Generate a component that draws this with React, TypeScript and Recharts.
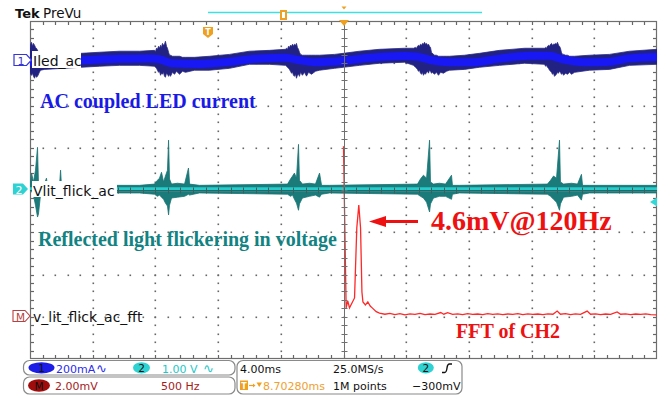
import React from 'react';
import { ComposedChart, Line, Area, XAxis, YAxis } from 'recharts';

// CH1 "Iled_ac" : [time ms (trigger = 0), current mA]  (200 mA/div)
const ch1Core: [number, number][] = [
  [-20.0, -9], [-16.71, 0], [-14.29, 7], [-12.38, 9], [-11.74, 5], [-10.97, -14], [-9.19, -17],
  [-7.27, -7], [-5.36, 9], [-3.7, 12], [-2.81, 0], [-1.85, -9], [0, -2], [1.66, 12], [3.89, 20],
  [4.72, 17], [5.61, 0], [6.76, -9], [8.23, -9], [9.95, 8], [11.87, 21], [13.14, 21], [13.97, 5],
  [15.37, -9], [16.78, -8], [18.25, 9], [20.0, 16],
];
// CH1 noise envelope : [time ms, min mA, max mA]
const ch1Envelope: [number, number, number][] = [
  [-20.0, -57, 57], [-19.97, -66, 76], [-19.9, -71, 85], [-19.84, -61, 66], [-19.78, -76, 80],
  [-19.71, -85, 71], [-19.65, -71, 61], [-19.59, -80, 57], [-19.52, -76, 47], [-19.4, -57, 38],
  [-19.33, -47, 33], [-19.07, -43, 28], [-16.71, -33, 33], [-15.57, -28, 38], [-14.29, -24, 43],
  [-13.01, -24, 43], [-12.06, -28, 47], [-12.0, -33, 40], [-11.93, -38, 57], [-11.87, -47, 52],
  [-11.8, -57, 66], [-11.74, -52, 57], [-11.67, -71, 71], [-11.61, -61, 61], [-11.55, -66, 80],
  [-11.48, -57, 71], [-11.42, -76, 76], [-11.36, -80, 90], [-11.29, -61, 66], [-11.23, -66, 57],
  [-11.16, -76, 38], [-11.1, -66, 24], [-11.04, -76, 24], [-10.91, -57, 19], [-10.78, -66, 19],
  [-10.65, -52, 19], [-10.46, -66, 19], [-10.27, -52, 14], [-10.08, -57, 14], [-9.51, -47, 14],
  [-8.55, -47, 19], [-7.27, -38, 28], [-6.0, -19, 43], [-4.72, -19, 47], [-3.7, -24, 52],
  [-3.64, -28, 57], [-3.57, -33, 52], [-3.51, -38, 66], [-3.45, -43, 61], [-3.38, -52, 71],
  [-3.32, -61, 66], [-3.25, -57, 76], [-3.19, -71, 66], [-3.13, -76, 76], [-3.06, -66, 71],
  [-3.0, -85, 80], [-2.94, -71, 61], [-2.87, -66, 52], [-2.81, -76, 38], [-2.74, -57, 28],
  [-2.62, -71, 24], [-2.49, -57, 24], [-2.36, -75, 24], [-2.23, -57, 24], [-2.04, -66, 24],
  [-1.79, -52, 24], [-1.53, -47, 24], [-0.57, -38, 28], [0, -33, 33], [1.02, -24, 43], [2.3, -14, 52],
  [3.89, -9, 57], [4.47, -24, 57], [4.59, -33, 61], [4.66, -38, 57], [4.72, -43, 66], [4.78, -52, 71],
  [4.85, -47, 66], [4.91, -61, 76], [4.98, -66, 71], [5.04, -57, 80], [5.1, -71, 76], [5.17, -61, 85],
  [5.23, -66, 76], [5.3, -57, 80], [5.36, -52, 71], [5.42, -61, 76], [5.49, -47, 66], [5.55, -52, 61],
  [5.61, -61, 38], [5.68, -57, 33], [5.8, -66, 24], [5.93, -57, 24], [6.06, -71, 19], [6.19, -57, 19],
  [6.38, -61, 19], [6.57, -52, 19], [6.76, -47, 19], [7.72, -43, 24], [8.68, -33, 33], [9.95, -24, 47],
  [11.55, -14, 57], [12.82, -19, 57], [12.89, -28, 61], [12.95, -24, 57], [13.01, -33, 66],
  [13.08, -38, 71], [13.14, -47, 66], [13.21, -52, 76], [13.27, -57, 80], [13.33, -66, 71],
  [13.4, -61, 76], [13.46, -76, 76], [13.52, -71, 80], [13.59, -66, 76], [13.65, -57, 85],
  [13.72, -61, 71], [13.78, -52, 66], [13.84, -57, 57], [13.9, -66, 38], [13.97, -61, 28],
  [14.04, -71, 28], [14.16, -61, 24], [14.29, -66, 24], [14.42, -57, 19], [14.55, -66, 19],
  [14.74, -57, 19], [15.69, -47, 24], [16.97, -43, 28], [18.25, -24, 43], [20.0, -19, 52],
];

// CH2 "Vlit_flick_ac" : [time ms, volts]  (1.00 V/div)
const ch2Core: [number, number][] = [[-20.0, 0], [-10.0, 0], [0, 0], [10.0, 0], [20.0, 0]];
// CH2 envelope with light-flicker spikes : [time ms, min V, max V]
const ch2Envelope: [number, number, number][] = [
  [-20.0, -0.05, 0.05], [-19.9, -0.05, 0.38], [-19.78, -0.14, 0.17], [-19.65, -0.38, 0.45],
  [-19.52, -0.66, 0.99], [-19.46, -0.59, 0.14], [-19.33, -0.14, 0.05], [-19.14, -0.09, 0.07],
  [-18.95, -0.07, 0.26], [-18.88, -0.07, 0.07], [-18.12, -0.07, 0.07], [-18.05, -0.07, 0.45],
  [-17.99, -0.07, 0.07], [-14.48, -0.09, 0.09], [-13.01, -0.09, 0.09], [-12.06, -0.12, 0.12],
  [-11.87, -0.17, 0.21], [-11.74, -0.14, 0.26], [-11.61, -0.19, 0.4], [-11.48, -0.24, 0.17],
  [-11.36, -0.33, 0.31], [-11.23, -0.4, 0.45], [-11.16, -0.61, 1.16], [-11.1, -0.38, 0.24],
  [-10.97, -0.21, 0.12], [-10.59, -0.19, 0.14], [-10.14, -0.17, 0.12], [-9.89, -0.12, 0.5],
  [-9.82, -0.14, 0.12], [-9.19, -0.09, 0.09], [-3.57, -0.12, 0.12], [-3.38, -0.17, 0.24],
  [-3.25, -0.14, 0.31], [-3.13, -0.24, 0.38], [-3.0, -0.33, 0.26], [-2.87, -0.5, 1.06],
  [-2.81, -0.35, 0.21], [-2.62, -0.21, 0.12], [-2.17, -0.17, 0.14], [-1.79, -0.14, 0.12],
  [-1.53, -0.19, 0.38], [-1.4, -0.12, 0.09], [-0.89, -0.09, 0.09], [4.72, -0.12, 0.12],
  [4.91, -0.17, 0.24], [5.1, -0.21, 0.33], [5.3, -0.31, 0.26], [5.49, -0.54, 1.16], [5.55, -0.35, 0.17],
  [5.74, -0.21, 0.12], [6.12, -0.17, 0.14], [6.51, -0.17, 0.12], [6.89, -0.24, 0.33], [6.95, -0.12, 0.09],
  [7.4, -0.09, 0.09], [13.01, -0.12, 0.12], [13.21, -0.17, 0.21], [13.4, -0.24, 0.31], [13.59, -0.31, 0.26],
  [13.78, -0.5, 1.16], [13.84, -0.35, 0.17], [14.04, -0.19, 0.12], [14.55, -0.17, 0.14],
  [14.93, -0.14, 0.12], [15.18, -0.26, 0.35], [15.25, -0.12, 0.09], [15.69, -0.09, 0.09], [20.0, -0.09, 0.09],
];

// Math "v_lit_flick_ac_fft" : [frequency Hz, mV]  (2.00 mV/div, 500 Hz/div)
const fftSpectrum: [number, number][] = [
  [0, 8.07], [21, 0.42], [34, 0.75], [48, 0.42], [88, 0.89], [106, 4.2], [122, 5.29], [136, 4.2],
  [147, 1.17], [155, 0.7], [175, 0.56], [194, 0.7], [213, 0.51], [229, 0.42], [261, 0.24], [287, 0.17],
  [330, 0.12], [370, 0.16], [410, 0.1], [450, 0.15], [490, 0.09], [530, 0.14], [570, 0.11], [610, 0.16],
  [650, 0.1], [690, 0.13], [730, 0.11], [775, 0.2], [800, 0.12], [830, 0.19], [870, 0.11], [910, 0.14],
  [950, 0.1], [990, 0.15], [1030, 0.11], [1070, 0.13], [1110, 0.1], [1150, 0.15], [1190, 0.11],
  [1230, 0.14], [1270, 0.1], [1310, 0.13], [1350, 0.11], [1390, 0.15], [1430, 0.1], [1470, 0.14],
  [1510, 0.11], [1550, 0.13], [1590, 0.1], [1630, 0.14], [1670, 0.12], [1704, 0.27], [1730, 0.12],
  [1770, 0.15], [1810, 0.1], [1850, 0.14], [1890, 0.11], [1943, 0.27], [1970, 0.12], [2010, 0.14],
  [2050, 0.1], [2090, 0.13], [2130, 0.11], [2182, 0.23], [2210, 0.12], [2250, 0.14], [2290, 0.1],
  [2330, 0.13], [2370, 0.11], [2410, 0.14], [2450, 0.1], [2496, 0.09],
];

const W = 662;
const H = 396;
const MARGIN = { top: 21, right: 5, bottom: 37, left: 30 };
const PL = 30, PR = 657, PT = 21, PB = 359;
const DIVS_X = 10, DIVS_Y = 8, MINOR = 5;
const CX = (PL + PR) / 2;
const CY = PT + ((PB - PT) / DIVS_Y) * 4;

const SANS = "'DejaVu Sans', Verdana, sans-serif";
const SERIF = "'Liberation Serif', 'Times New Roman', serif";

const px = (v: number) => Math.round(v) + 0.5;

function Graticule() {
  const dx = (PR - PL) / DIVS_X;
  const dy = (PB - PT) / DIVS_Y;
  const mx = dx / MINOR;
  const my = dy / MINOR;
  const els: React.ReactNode[] = [];
  const DOT = '#666666';
  for (let i = 1; i < DIVS_X; i++) {
    if (i === DIVS_X / 2) continue;
    const x = Math.round(PL + i * dx);
    for (let k = 1; k < DIVS_Y * MINOR; k++) {
      const y = Math.round(PT + k * my);
      els.push(<rect key={`gv${i}-${k}`} x={x - 0.5} y={y - 0.5} width={1.6} height={1.6} fill={DOT} />);
    }
  }
  for (let j = 1; j < DIVS_Y; j++) {
    if (j === DIVS_Y / 2) continue;
    const y = Math.round(PT + j * dy);
    for (let k = 1; k < DIVS_X * MINOR; k++) {
      const x = Math.round(PL + k * mx);
      els.push(<rect key={`gh${j}-${k}`} x={x - 0.5} y={y - 0.5} width={1.6} height={1.6} fill={DOT} />);
    }
  }
  for (let k = 1; k < DIVS_X * MINOR; k++) {
    const x = px(PL + k * mx);
    els.push(<line key={'bt' + k} x1={x} x2={x} y1={PT} y2={PT + 4} stroke="#666" strokeWidth={1.2} />);
    els.push(<line key={'bb' + k} x1={x} x2={x} y1={PB - 4} y2={PB} stroke="#666" strokeWidth={1.2} />);
  }
  for (let k = 1; k < DIVS_Y * MINOR; k++) {
    const y = px(PT + k * my);
    els.push(<line key={'bl' + k} x1={PL} x2={PL + 4} y1={y} y2={y} stroke="#666" strokeWidth={1.2} />);
    els.push(<line key={'br' + k} x1={PR - 4} x2={PR} y1={y} y2={y} stroke="#666" strokeWidth={1.2} />);
  }
  els.push(<rect key="border" x={PL + 0.5} y={PT + 0.5} width={PR - PL - 1} height={PB - PT - 1} fill="none" stroke="#6e6e6e" strokeWidth={1.2} />);
  return <>{els}</>;
}

function Crosshair() {
  const mx = (PR - PL) / DIVS_X / MINOR;
  const my = (PB - PT) / DIVS_Y / MINOR;
  const cx = px(CX);
  const cy = px(CY);
  const els: React.ReactNode[] = [];
  els.push(<line key="cv" x1={cx} y1={PT} x2={cx} y2={PB} stroke="#707070" strokeWidth={1} />);
  els.push(<line key="ch" x1={PL} y1={cy} x2={PR} y2={cy} stroke="#3b5f5f" strokeWidth={1} />);
  for (let k = 1; k < DIVS_Y * MINOR; k++) {
    const y = px(PT + k * my);
    els.push(<line key={'cvt' + k} x1={cx - 3} x2={cx + 3} y1={y} y2={y} stroke="#707070" />);
  }
  for (let k = 1; k < DIVS_X * MINOR; k++) {
    const x = px(PL + k * mx);
    els.push(<line key={'cht' + k} x1={x} x2={x} y1={cy - 3} y2={cy + 3} stroke="#3b5f5f" />);
  }
  return <>{els}</>;
}

export default function App() {
  const ch1Env = ch1Envelope.map(([t, lo, hi]) => ({ t, r: [lo, hi] }));
  const ch1Line = ch1Core.map(([t, v]) => ({ t, v }));
  const ch2Env = ch2Envelope.map(([t, lo, hi]) => ({ t, r: [lo, hi] }));
  const ch2Line = ch2Core.map(([t, v]) => ({ t, v }));
  const fft = fftSpectrum.map(([f, v]) => ({ f, v }));

  return (
    <div style={{ position: 'absolute', left: 0, top: 0, width: W, height: H, background: '#fff', overflow: 'hidden' }}>
      <svg width={W} height={H} style={{ position: 'absolute', left: 0, top: 0, zIndex: 0 }}>
        <Graticule />
      </svg>
      <div style={{ position: 'absolute', left: 0, top: 0, zIndex: 1 }}>
        <ComposedChart width={W} height={H} margin={MARGIN} style={{ background: 'transparent' }}>
          <XAxis xAxisId="t" type="number" dataKey="t" domain={[-20, 20]} allowDataOverflow hide />
          <XAxis xAxisId="f" type="number" dataKey="f" domain={[-2500, 2500]} allowDataOverflow hide />
          <YAxis yAxisId="ch1" type="number" domain={[-1414, 186]} allowDataOverflow hide />
          <YAxis yAxisId="ch2" type="number" domain={[-4.02, 3.98]} allowDataOverflow hide />
          <YAxis yAxisId="fft" type="number" domain={[-2, 14]} allowDataOverflow hide />

          <Area data={ch1Env} xAxisId="t" yAxisId="ch1" dataKey="r" type="linear" stroke="#2a2a80" strokeWidth={0.8}
            fill="#222282" fillOpacity={1} isAnimationActive={false} dot={false} activeDot={false} />
          <Line data={ch1Line} xAxisId="t" yAxisId="ch1" dataKey="v" type="monotone" stroke="#1818f4" strokeWidth={8}
            dot={false} activeDot={false} isAnimationActive={false} />
          <Area data={ch2Env} xAxisId="t" yAxisId="ch2" dataKey="r" type="linear" stroke="#1a7474" strokeWidth={0.8}
            fill="#1b7a7a" fillOpacity={1} isAnimationActive={false} dot={false} activeDot={false} />
          <Line data={ch2Line} xAxisId="t" yAxisId="ch2" dataKey="v" type="linear" stroke="#26cccc" strokeWidth={4}
            dot={false} activeDot={false} isAnimationActive={false} />
          <Line data={fft} xAxisId="f" yAxisId="fft" dataKey="v" type="linear" stroke="#ff2828" strokeWidth={1.3}
            dot={false} activeDot={false} isAnimationActive={false} />
        </ComposedChart>
      </div>

      <svg width={W} height={H} style={{ position: 'absolute', left: 0, top: 0, zIndex: 2, pointerEvents: 'none' }}>
        <Crosshair />

        {/* top bar */}
        <text x={15} y={18} fontFamily={SANS} fontWeight="bold" fontSize={13} fill="#111">Tek</text>
        <text x={43} y={18} fontFamily={SANS} fontSize={13.5} fill="#111">PreVu</text>
        <line x1={208} x2={482} y1={12.5} y2={12.5} stroke="#3ee0e0" strokeWidth={1.5} />
        <rect x={280} y={10} width={7} height={10} fill="#f0a020" />
        <rect x={282} y={12} width={3} height={6} fill="#fff" />
        <path d="M341.5,6.5 L346.5,6.5 L344,9.5 Z" fill="#f0a020" />
        <path d="M339,20 L349,20 L344,26 Z" fill="#f0a020" />
        <path d="M203,27 H213 V34 L208,38 L203,34 Z" fill="#f0a020" />
        <text x={208} y={35} textAnchor="middle" fontFamily={SANS} fontWeight="bold" fontSize={8} fill="#fff">T</text>

        {/* channel markers and labels */}
        <path d="M14,54.5 H26.5 L31.5,60 L26.5,65.5 H14 Z" fill="#fff" stroke="#3535d8" strokeWidth={1.2} />
        <text x={21} y={64.5} textAnchor="middle" fontFamily={SANS} fontSize={11} fill="#3535d8">1</text>
        <rect x={32} y={51} width={49} height={17} fill="#fff" />
        <text x={33} y={65.5} fontFamily={SANS} fontSize={14} fill="#111">Iled_ac</text>

        <path d="M13,183.5 H23 L28,189 L23,194.5 H13 Z" fill="#2fd2d2" />
        <text x={19} y={193.5} textAnchor="middle" fontFamily={SANS} fontSize={11} fill="#fff">2</text>
        <rect x={32} y={181} width={85} height={16} fill="#fff" />
        <text x={33} y={195.5} fontFamily={SANS} fontSize={14} fill="#111">Vlit_flick_ac</text>

        <path d="M13,310.5 H25 L30,316 L25,321.5 H13 Z" fill="#fff" stroke="#b84040" strokeWidth={1.1} />
        <text x={20.5} y={320.5} textAnchor="middle" fontFamily={SANS} fontSize={10.5} fill="#b84040">M</text>
        <text x={33} y={321.5} fontFamily={SANS} fontSize={14} fill="#111">v_lit_flick_ac_fft</text>

        <path d="M650,202 L657,197.5 L657,206.5 Z" fill="#30d8d8" />

        {/* annotations */}
        <text x={40} y={108} fontFamily={SERIF} fontWeight="bold" fontSize={20} fill="#1a1ae6">AC coupled LED current</text>
        <text x={38} y={245.5} fontFamily={SERIF} fontWeight="bold" fontSize={20} fill="#128282">Reflected light flickering in voltage</text>
        <text x={431} y={230} fontFamily={SERIF} fontWeight="bold" fontSize={28} fill="#ee1111">4.6mV@120Hz</text>
        <text x={456} y={338} fontFamily={SERIF} fontWeight="bold" fontSize={20} fill="#ee1111">FFT of CH2</text>
        <line x1={382} x2={418} y1={221.5} y2={221.5} stroke="#ee1111" strokeWidth={3} />
        <path d="M369,221.5 L386,216 L386,227 Z" fill="#ee1111" />

        {/* status bar */}
        <rect x={23.5} y={360.5} width={211.5} height={14.5} rx={6} fill="#fff" stroke="#8a8a8a" strokeWidth={1.2} />
        <rect x={23.5} y={377} width={211.5} height={17} rx={6} fill="#fff" stroke="#8a8a8a" strokeWidth={1.2} />
        <rect x={237} y={360.5} width={225} height={33.5} rx={6} fill="#fff" stroke="#8a8a8a" strokeWidth={1.2} />

        <ellipse cx={41.5} cy={367.8} rx={13} ry={5.6} fill="#1c1ce6" />
        <text x={41.5} y={372} textAnchor="middle" fontFamily={SANS} fontSize={10.5} fill="#111">1</text>
        <text x={56} y={373} fontFamily={SANS} fontSize={11} fill="#2b2bf0">200mA</text>
        <text x={96} y={373} fontFamily={SANS} fontSize={13} fill="#2b2bf0">∿</text>
        <ellipse cx={141.5} cy={367.8} rx={8.5} ry={5.6} fill="#2fd2d2" />
        <text x={141.5} y={372} textAnchor="middle" fontFamily={SANS} fontSize={10.5} fill="#111">2</text>
        <text x={162} y={373} fontFamily={SANS} fontSize={11} fill="#1ec8c8">1.00 V</text>
        <text x={203} y={373} fontFamily={SANS} fontSize={13} fill="#1ec8c8">∿</text>

        <ellipse cx={39} cy={385.5} rx={11} ry={6.2} fill="#a00c0c" />
        <text x={39} y={389.5} textAnchor="middle" fontFamily={SANS} fontSize={10.5} fill="#111">M</text>
        <text x={55} y={390} fontFamily={SANS} fontSize={11} fill="#a51c1c">2.00mV</text>
        <text x={161} y={390} fontFamily={SANS} fontSize={11} fill="#a51c1c">500 Hz</text>

        <text x={240} y={373} fontFamily={SANS} fontSize={11} fill="#111">4.00ms</text>
        <text x={333} y={373} fontFamily={SANS} fontSize={11} fill="#111">25.0MS/s</text>
        <ellipse cx={425.8} cy={367.8} rx={8} ry={5.6} fill="#2fd2d2" />
        <text x={425.8} y={372} textAnchor="middle" fontFamily={SANS} fontSize={10.5} fill="#111">2</text>
        <path d="M442,372.5 L444.5,372.5 Q446.5,372.5 447,368 Q447.5,364 449.5,364 L452,364" stroke="#111" strokeWidth={1.4} fill="none" />

        <rect x={240} y={380.5} width={8} height={9.5} fill="#f0a020" />
        <text x={244} y={388.5} textAnchor="middle" fontFamily={SANS} fontWeight="bold" fontSize={8} fill="#fff">T</text>
        <line x1={249} x2={253.5} y1={385.5} y2={385.5} stroke="#f0a020" strokeWidth={1.2} />
        <path d="M253,383.5 L255.5,385.5 L253,387.5 Z" fill="#f0a020" />
        <path d="M256.5,382.5 L262,382.5 L259.25,387 Z" fill="#f0a020" />
        <text x={263} y={390} fontFamily={SANS} fontSize={11} fill="#f0a030">8.70280ms</text>
        <text x={333} y={390} fontFamily={SANS} fontSize={11} fill="#111">1M points</text>
        <text x={412} y={390} fontFamily={SANS} fontSize={11} fill="#111">−300mV</text>
      </svg>
    </div>
  );
}
